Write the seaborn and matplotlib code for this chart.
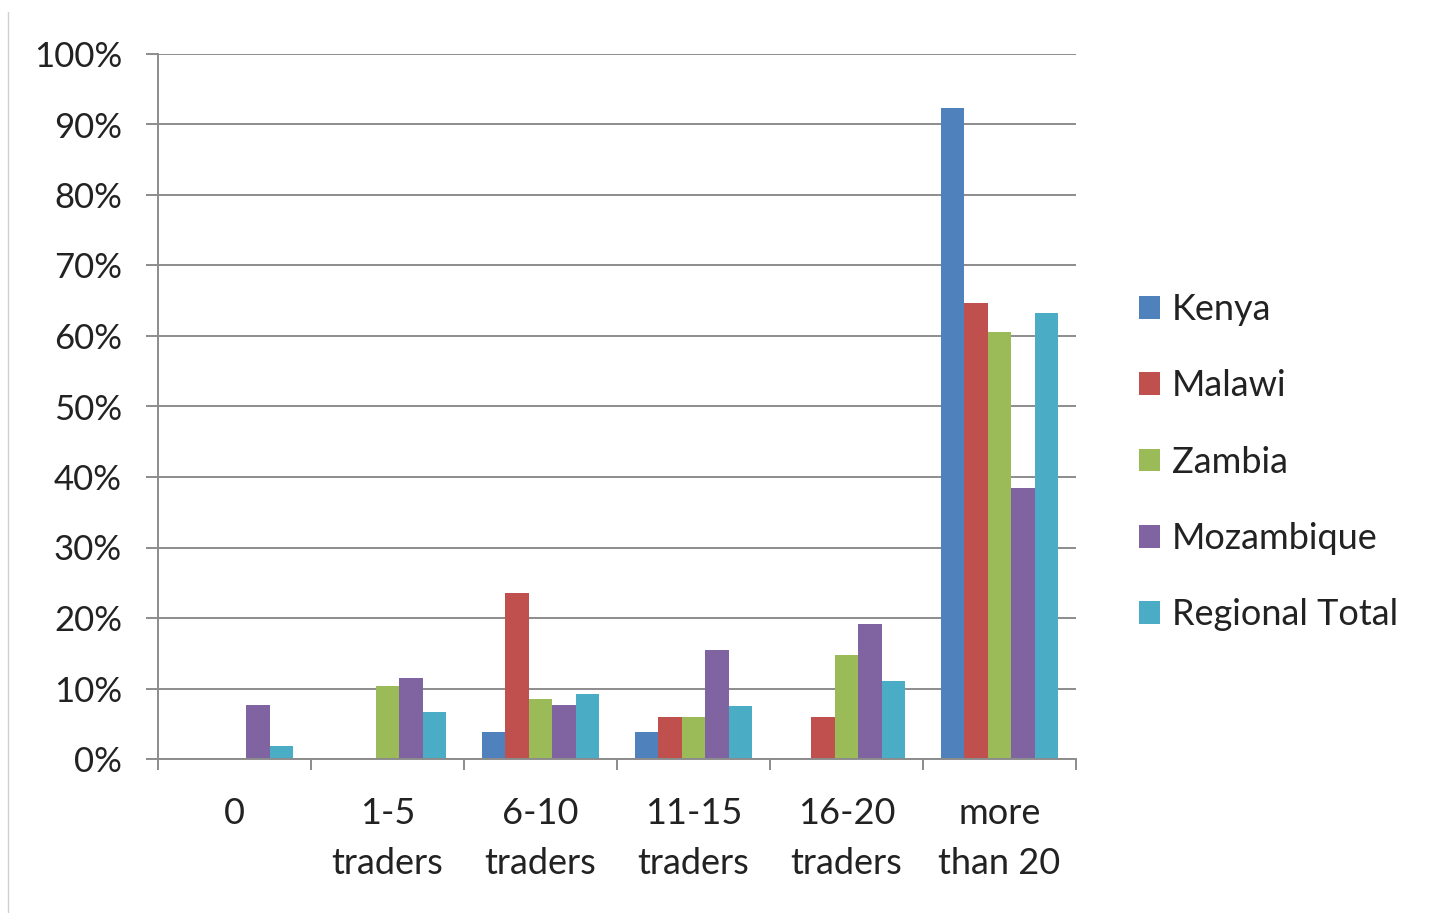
import matplotlib
matplotlib.use("Agg")
import matplotlib.pyplot as plt
from matplotlib.lines import Line2D
from matplotlib.ticker import FixedLocator, PercentFormatter
import numpy as np
import pandas as pd
import seaborn as sns

# Number of traders met per trip, share of respondents by country
categories = ["0", "1-5\ntraders", "6-10\ntraders", "11-15\ntraders", "16-20\ntraders", "more\nthan 20"]
kenya = [0.0, 0.0, 3.8, 3.8, 0.0, 92.3]
malawi = [0.0, 0.0, 23.5, 5.9, 5.9, 64.7]
zambia = [0.0, 10.3, 8.5, 6.0, 14.7, 60.5]
mozambique = [7.7, 11.5, 7.7, 15.4, 19.2, 38.5]
regional_total = [1.8, 6.6, 9.2, 7.5, 11.0, 63.3]

series_names = ["Kenya", "Malawi", "Zambia", "Mozambique", "Regional Total"]
series_colors = ["#4F81BD", "#C0504D", "#9BBB59", "#8064A2", "#4BACC6"]
y_ticks = [0, 10, 20, 30, 40, 50, 60, 70, 80, 90, 100]

df = pd.DataFrame({
    "category": categories * 5,
    "series": np.repeat(series_names, len(categories)),
    "value": kenya + malawi + zambia + mozambique + regional_total,
})

sns.set_theme(style="white")
plt.rcParams["font.family"] = ["Lato", "DejaVu Sans"]

grid_col = "#8C8C8C"
text_col = "#222222"
fig = plt.figure(figsize=(14.29, 9.13), dpi=100)
ax = fig.add_axes([158 / 1429, 1 - 759 / 913, (1076 - 158) / 1429, (759 - 54) / 913])

sns.barplot(data=df, x="category", y="value", hue="series", order=categories,
            hue_order=series_names, palette=series_colors, width=0.77,
            saturation=1, ax=ax, legend=True)
for p in ax.patches:
    p.set_edgecolor("none")

ax.set_xlim(-0.5, len(categories) - 0.5)
ax.set_ylim(0, 100)
ax.set_yticks(y_ticks)
ax.yaxis.set_major_formatter(PercentFormatter(decimals=0))
ax.set_xlabel("")
ax.set_ylabel("")

ax.yaxis.grid(True, color=grid_col, linewidth=1.4)
ax.set_axisbelow(True)
for side in ["top", "right"]:
    ax.spines[side].set_visible(False)
for side in ["left", "bottom"]:
    ax.spines[side].set_color(grid_col)
    ax.spines[side].set_linewidth(1.4)

ax.tick_params(axis="y", which="major", direction="out", length=9, width=1.4,
               color=grid_col, pad=17, labelsize=25, labelcolor=text_col, left=True)
ax.tick_params(axis="x", which="major", length=0, pad=27, labelsize=26,
               labelcolor=text_col)
ax.xaxis.set_minor_locator(FixedLocator(np.arange(-0.5, len(categories), 1.0)))
ax.tick_params(axis="x", which="minor", direction="out", length=8, width=1.4,
               color=grid_col, bottom=True)
for lbl in ax.get_xticklabels():
    lbl.set_linespacing(1.65)

handles, labels = ax.get_legend_handles_labels()
leg = ax.legend(handles, labels, loc="center left", bbox_to_anchor=(1.053, 0.421),
                frameon=False, fontsize=26, handlelength=0.58, handleheight=0.58,
                handletextpad=0.32, labelspacing=1.2, borderaxespad=0)
for t in leg.get_texts():
    t.set_color(text_col)

# thin frame edge on the left of the chart area
fig.add_artist(Line2D([8 / 1429, 8 / 1429], [0, 1 - 12 / 913],
                      transform=fig.transFigure, color="#D0D0D0", linewidth=1))

fig.savefig("out.png", dpi=100)
